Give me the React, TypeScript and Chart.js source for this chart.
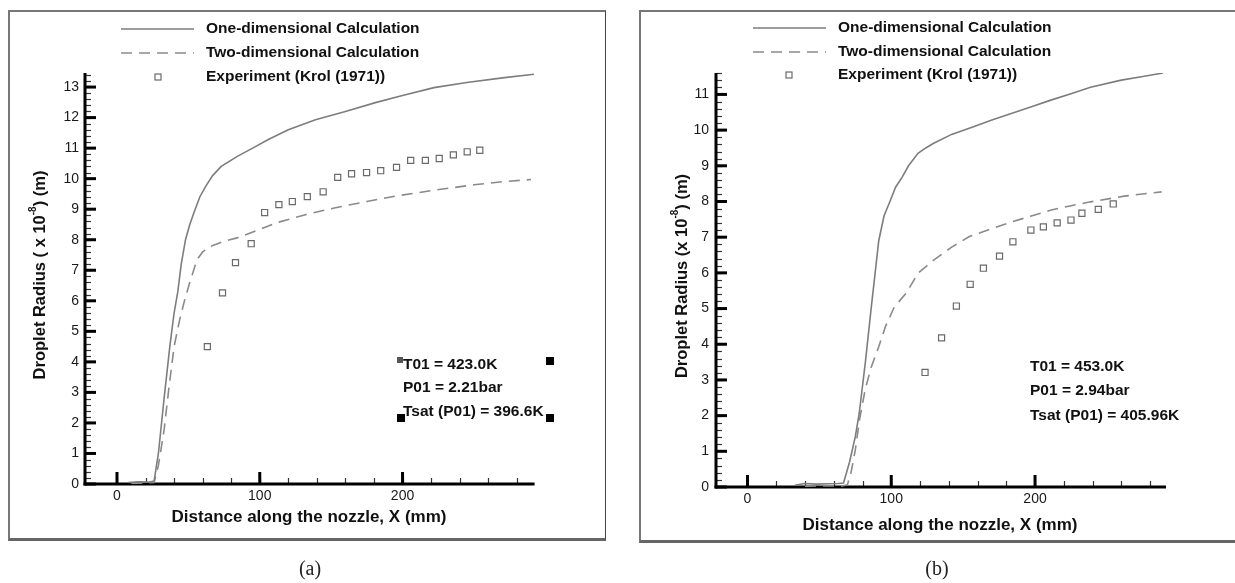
import React, { useEffect, useRef } from 'react';
import { Chart, registerables } from 'chart.js';

Chart.register(...registerables);

// ---------- Panel (a) data ----------
const oneDimXA = [8, 15, 22, 26, 29, 33, 37, 40, 42.6, 45, 48, 51, 54, 58, 62, 67, 73, 84, 95, 106, 120, 139, 160, 181, 200, 222, 245, 270, 292];
const oneDimYA = [0.05, 0.07, 0.06, 0.1, 1.0, 2.8, 4.5, 5.6, 6.3, 7.2, 8.0, 8.5, 8.9, 9.4, 9.74, 10.1, 10.4, 10.72, 11.0, 11.28, 11.6, 11.93, 12.2, 12.49, 12.72, 12.98, 13.15, 13.3, 13.42];
const twoDimXA = [10, 20, 26, 29, 33, 36.5, 40, 44, 48, 51, 56, 60, 65, 75, 84, 98, 112, 132, 153, 175, 195, 222, 250, 270, 290];
const twoDimYA = [0.02, 0.03, 0.05, 0.6, 1.77, 3.2, 4.5, 5.4, 6.13, 6.6, 7.34, 7.6, 7.77, 7.95, 8.06, 8.3, 8.56, 8.82, 9.05, 9.25, 9.43, 9.62, 9.8, 9.9, 9.97];
const expXA = [63.3, 73.9, 83, 94, 103.4, 113.4, 122.8, 133.3, 144.4, 154.6, 164.3, 174.8, 184.7, 195.8, 205.7, 216, 225.7, 235.6, 245.3, 254.1];
const expYA = [4.5, 6.26, 7.25, 7.87, 8.89, 9.15, 9.25, 9.41, 9.57, 10.04, 10.16, 10.2, 10.26, 10.37, 10.6, 10.6, 10.66, 10.78, 10.88, 10.93];
const yTicksA = [0, 1, 2, 3, 4, 5, 6, 7, 8, 9, 10, 11, 12, 13];
const annotA = ['T01 = 423.0K', 'P01 = 2.21bar', 'Tsat (P01) = 396.6K'];

// ---------- Panel (b) data ----------
const oneDimXB = [33, 40, 48, 56, 63, 66.8, 71, 75, 77.7, 82, 86, 91.3, 95, 99.5, 103, 107.7, 112, 118.6, 124, 129.5, 142, 156.7, 170, 184, 198, 211, 225, 238.6, 260, 275, 289];
const oneDimYB = [0.05, 0.1, 0.08, 0.09, 0.1, 0.11, 0.7, 1.41, 2.06, 3.5, 5.0, 6.9, 7.6, 8.04, 8.4, 8.69, 9.0, 9.35, 9.5, 9.63, 9.88, 10.09, 10.28, 10.47, 10.66, 10.84, 11.02, 11.2, 11.4, 11.5, 11.6];
const twoDimXB = [40, 50, 60, 66, 69.5, 72, 75, 78, 81.8, 86, 91.3, 96, 102.2, 110.4, 118.6, 129.5, 142, 154, 169, 184, 198, 211.3, 225, 238.6, 262, 288];
const twoDimYB = [0.02, 0.03, 0.03, 0.03, 0.06, 0.4, 1.04, 1.9, 2.72, 3.35, 3.93, 4.5, 5.05, 5.43, 5.99, 6.36, 6.72, 7.01, 7.23, 7.43, 7.6, 7.76, 7.88, 7.99, 8.15, 8.27];
const expXB = [123.5, 135, 145.3, 154.9, 164.1, 175.3, 184.6, 197.1, 205.8, 215.4, 225, 232.6, 244, 254.4];
const expYB = [3.21, 4.18, 5.07, 5.68, 6.13, 6.47, 6.87, 7.2, 7.29, 7.4, 7.48, 7.67, 7.78, 7.93];
const yTicksB = [0, 1, 2, 3, 4, 5, 6, 7, 8, 9, 10, 11];
const annotB = ['T01 = 453.0K', 'P01 = 2.94bar', 'Tsat (P01) = 405.96K'];

// ---------- shared text ----------
const xTickValues = [0, 100, 200];
const xMinorStep = 20;
const yMinorStep = 0.2;
const legendLabels = ['One-dimensional Calculation', 'Two-dimensional Calculation', 'Experiment (Krol (1971))'];
const xTitle = 'Distance along the nozzle, X (mm)';
const yTitlePrefixA = 'Droplet Radius ( x 10';
const yTitlePrefixB = 'Droplet Radius (x 10';
const yTitleSup = '-8';
const yTitleSuffix = ') (m)';

const SANS = "'Liberation Sans', Arial, Helvetica, sans-serif";
const SERIF = "'Liberation Serif', 'Times New Roman', serif";
const LINE_COLOR = '#7d7d7d';
const DASH_COLOR = '#8a8a8a';
const MARK_COLOR = '#6a6a6a';

type Panel = {
  left: number; width: number; height: number;
  area: { l: number; r: number; t: number; b: number };
  xMin: number; xMax: number; yMax: number; yTicks: number[];
  oneX: number[]; oneY: number[]; twoX: number[]; twoY: number[]; expX: number[]; expY: number[];
  legend: { x0: number; x1: number; tx: number; mx: number; rows: number[] };
  annot: { x: number; rows: number[]; text: string[] };
  xTitlePos: { x: number; y: number };
  yTitlePos: { x: number; y: number; prefix: string };
  caption: { x: number; y: number; text: string };
  squares: boolean;
  xPad: number; yPad: number;
};

const panels: Panel[] = [
  {
    left: 0, width: 620, height: 583,
    area: { l: 85, r: 534.6, t: 73, b: 484 },
    xMin: -22.4, xMax: 292.5, yMax: 13.46, yTicks: yTicksA,
    oneX: oneDimXA, oneY: oneDimYA, twoX: twoDimXA, twoY: twoDimYA, expX: expXA, expY: expYA,
    legend: { x0: 121, x1: 194, tx: 206, mx: 158, rows: [29, 53, 77] },
    annot: { x: 403, rows: [365, 388, 412], text: annotA },
    xTitlePos: { x: 309, y: 517 },
    yTitlePos: { x: 40, y: 275, prefix: yTitlePrefixA },
    caption: { x: 310, y: 570, text: '(a)' },
    squares: true,
    xPad: 4, yPad: 6,
  },
  {
    left: 620, width: 615, height: 583,
    area: { l: 96, r: 546, t: 73, b: 487 },
    xMin: -21.9, xMax: 291.1, yMax: 11.6, yTicks: yTicksB,
    oneX: oneDimXB, oneY: oneDimYB, twoX: twoDimXB, twoY: twoDimYB, expX: expXB, expY: expYB,
    legend: { x0: 133, x1: 206, tx: 218, mx: 169, rows: [28, 52, 75] },
    annot: { x: 410, rows: [367, 391, 416], text: annotB },
    xTitlePos: { x: 320, y: 525 },
    yTitlePos: { x: 62, y: 276, prefix: yTitlePrefixB },
    caption: { x: 317, y: 570, text: '(b)' },
    squares: false,
    xPad: 4, yPad: 7,
  },
];

const toPts = (xs: number[], ys: number[]) => xs.map((x, i) => ({ x, y: ys[i] }));

function makeDecor(p: Panel) {
  return {
    id: 'decor',
    beforeDatasetsDraw(chart: any) {
      const ctx = chart.ctx;
      const xs = chart.scales.x;
      const ys = chart.scales.y;
      const { left, right, top, bottom } = chart.chartArea;
      ctx.save();
      // minor y ticks
      ctx.strokeStyle = '#333';
      ctx.lineWidth = 1.2;
      for (let v = 0; v <= p.yMax + 1e-9; v += yMinorStep) {
        const y = Math.round(ys.getPixelForValue(v)) + 0.5;
        ctx.beginPath(); ctx.moveTo(left, y); ctx.lineTo(left + 6, y); ctx.stroke();
      }
      // minor x ticks
      for (let v = 0; v <= p.xMax; v += xMinorStep) {
        const x = Math.round(xs.getPixelForValue(v)) + 0.5;
        ctx.beginPath(); ctx.moveTo(x, bottom); ctx.lineTo(x, bottom - 6); ctx.stroke();
      }
      // major ticks
      ctx.strokeStyle = '#000';
      ctx.lineWidth = 3;
      for (const v of p.yTicks) {
        const y = ys.getPixelForValue(v);
        ctx.beginPath(); ctx.moveTo(left, y); ctx.lineTo(left + 11, y); ctx.stroke();
      }
      for (const v of xTickValues) {
        const x = xs.getPixelForValue(v);
        ctx.beginPath(); ctx.moveTo(x, bottom); ctx.lineTo(x, bottom - 12); ctx.stroke();
      }
      // axis lines
      ctx.lineWidth = 3;
      ctx.beginPath(); ctx.moveTo(left, top); ctx.lineTo(left, bottom + 1.5); ctx.stroke();
      ctx.beginPath(); ctx.moveTo(left - 1.5, bottom); ctx.lineTo(right, bottom); ctx.stroke();
      ctx.restore();
    },
    afterDraw(chart: any) {
      const ctx = chart.ctx;
      ctx.save();
      // legend
      const L = p.legend;
      ctx.lineWidth = 1.6;
      ctx.strokeStyle = LINE_COLOR;
      ctx.beginPath(); ctx.moveTo(L.x0, L.rows[0]); ctx.lineTo(L.x1, L.rows[0]); ctx.stroke();
      ctx.strokeStyle = DASH_COLOR;
      ctx.setLineDash([11, 7]);
      ctx.beginPath(); ctx.moveTo(L.x0, L.rows[1]); ctx.lineTo(L.x1, L.rows[1]); ctx.stroke();
      ctx.setLineDash([]);
      ctx.strokeStyle = MARK_COLOR;
      ctx.lineWidth = 1.2;
      ctx.strokeRect(L.mx - 3, L.rows[2] - 3, 6, 6);
      ctx.fillStyle = '#111';
      ctx.font = `bold 15.5px ${SANS}`;
      ctx.textBaseline = 'middle';
      ctx.textAlign = 'left';
      legendLabels.forEach((t, i) => ctx.fillText(t, L.tx, L.rows[i]));
      // annotation
      ctx.font = `bold 15.5px ${SANS}`;
      p.annot.text.forEach((t, i) => ctx.fillText(t, p.annot.x, p.annot.rows[i]));
      if (p.squares) {
        ctx.fillStyle = '#555';
        ctx.fillRect(397, 357, 6, 6);
        ctx.fillStyle = '#000';
        ctx.fillRect(546, 357, 8, 8);
        ctx.fillRect(397, 414, 8, 8);
        ctx.fillRect(546, 414, 8, 8);
        ctx.fillStyle = '#111';
      }
      // x title
      ctx.font = `bold 17px ${SANS}`;
      ctx.textAlign = 'center';
      ctx.fillText(xTitle, p.xTitlePos.x, p.xTitlePos.y);
      // y title with superscript
      ctx.translate(p.yTitlePos.x, p.yTitlePos.y);
      ctx.rotate(-Math.PI / 2);
      const mainFont = `bold 16.5px ${SANS}`;
      const supFont = `bold 10px ${SANS}`;
      ctx.font = mainFont;
      const w1 = ctx.measureText(p.yTitlePos.prefix).width;
      const w3 = ctx.measureText(yTitleSuffix).width;
      ctx.font = supFont;
      const w2 = ctx.measureText(yTitleSup).width;
      let x = -(w1 + w2 + w3) / 2;
      ctx.textAlign = 'left';
      ctx.font = mainFont;
      ctx.fillText(p.yTitlePos.prefix, x, 0);
      x += w1;
      ctx.font = supFont;
      ctx.fillText(yTitleSup, x, -7);
      x += w2;
      ctx.font = mainFont;
      ctx.fillText(yTitleSuffix, x, 0);
      ctx.setTransform(1, 0, 0, 1, 0, 0);
      // caption
      ctx.font = `20px ${SERIF}`;
      ctx.textAlign = 'center';
      ctx.fillStyle = '#222';
      ctx.fillText(p.caption.text, p.caption.x, p.caption.y);
      ctx.restore();
    },
  };
}

function PanelChart({ p }: { p: Panel }) {
  const ref = useRef<HTMLCanvasElement | null>(null);
  useEffect(() => {
    if (!ref.current) return;
    const AX_W = 40;
    const AX_H = 40;
    const chart = new Chart(ref.current, {
      type: 'scatter',
      data: {
        datasets: [
          {
            label: legendLabels[0],
            data: toPts(p.oneX, p.oneY),
            showLine: true,
            borderColor: LINE_COLOR,
            borderWidth: 1.6,
            pointRadius: 0,
            tension: 0,
          },
          {
            label: legendLabels[1],
            data: toPts(p.twoX, p.twoY),
            showLine: true,
            borderColor: DASH_COLOR,
            borderWidth: 1.6,
            borderDash: [11, 7],
            pointRadius: 0,
            tension: 0,
          },
          {
            label: legendLabels[2],
            data: toPts(p.expX, p.expY),
            showLine: false,
            pointStyle: 'rect',
            pointRadius: 4.3,
            borderColor: MARK_COLOR,
            borderWidth: 1.2,
            backgroundColor: 'rgba(255,255,255,0)',
          },
        ],
      } as any,
      options: {
        animation: false,
        responsive: false,
        maintainAspectRatio: false,
        events: [],
        layout: {
          padding: {
            left: p.area.l - AX_W,
            right: p.width - p.area.r,
            top: p.area.t,
            bottom: p.height - p.area.b - AX_H,
          },
        },
        plugins: { legend: { display: false }, tooltip: { enabled: false } },
        scales: {
          x: {
            type: 'linear',
            min: p.xMin,
            max: p.xMax,
            afterFit: (s: any) => { s.height = AX_H; s.paddingLeft = 0; s.paddingRight = 0; },
            afterBuildTicks: (s: any) => { s.ticks = xTickValues.map((v) => ({ value: v })); },
            grid: { display: false, drawTicks: false },
            border: { display: false },
            ticks: {
              padding: p.xPad,
              autoSkip: false,
              maxRotation: 0,
              color: '#1a1a1a',
              font: { family: SANS, size: 14 },
              callback: (v: any) => String(v),
            },
          },
          y: {
            type: 'linear',
            min: 0,
            max: p.yMax,
            afterFit: (s: any) => { s.width = AX_W; s.paddingTop = 0; s.paddingBottom = 0; },
            afterBuildTicks: (s: any) => { s.ticks = p.yTicks.map((v) => ({ value: v })); },
            grid: { display: false, drawTicks: false },
            border: { display: false },
            ticks: {
              padding: p.yPad,
              autoSkip: false,
              color: '#1a1a1a',
              font: { family: SANS, size: 14 },
              callback: (v: any) => String(v),
            },
          },
        },
      } as any,
      plugins: [makeDecor(p)],
    });
    return () => chart.destroy();
  }, [p]);
  return (
    <canvas
      ref={ref}
      width={p.width}
      height={p.height}
      style={{ position: 'absolute', left: p.left, top: 0, width: p.width, height: p.height }}
    />
  );
}

export default function App() {
  return (
    <div style={{ position: 'absolute', left: 0, top: 0, width: 1235, height: 583, background: '#fff', overflow: 'hidden' }}>
      <div
        style={{
          position: 'absolute', left: 8, top: 10, width: 598, height: 531, boxSizing: 'border-box',
          borderTop: '2px solid #777', borderLeft: '2px solid #777', borderRight: '1px solid #444', borderBottom: '3px solid #666',
        }}
      />
      <div
        style={{
          position: 'absolute', left: 639, top: 10, width: 620, height: 533, boxSizing: 'border-box',
          borderTop: '2px solid #777', borderLeft: '2px solid #777', borderBottom: '3px solid #666',
        }}
      />
      {panels.map((p, i) => (
        <PanelChart key={i} p={p} />
      ))}
    </div>
  );
}
